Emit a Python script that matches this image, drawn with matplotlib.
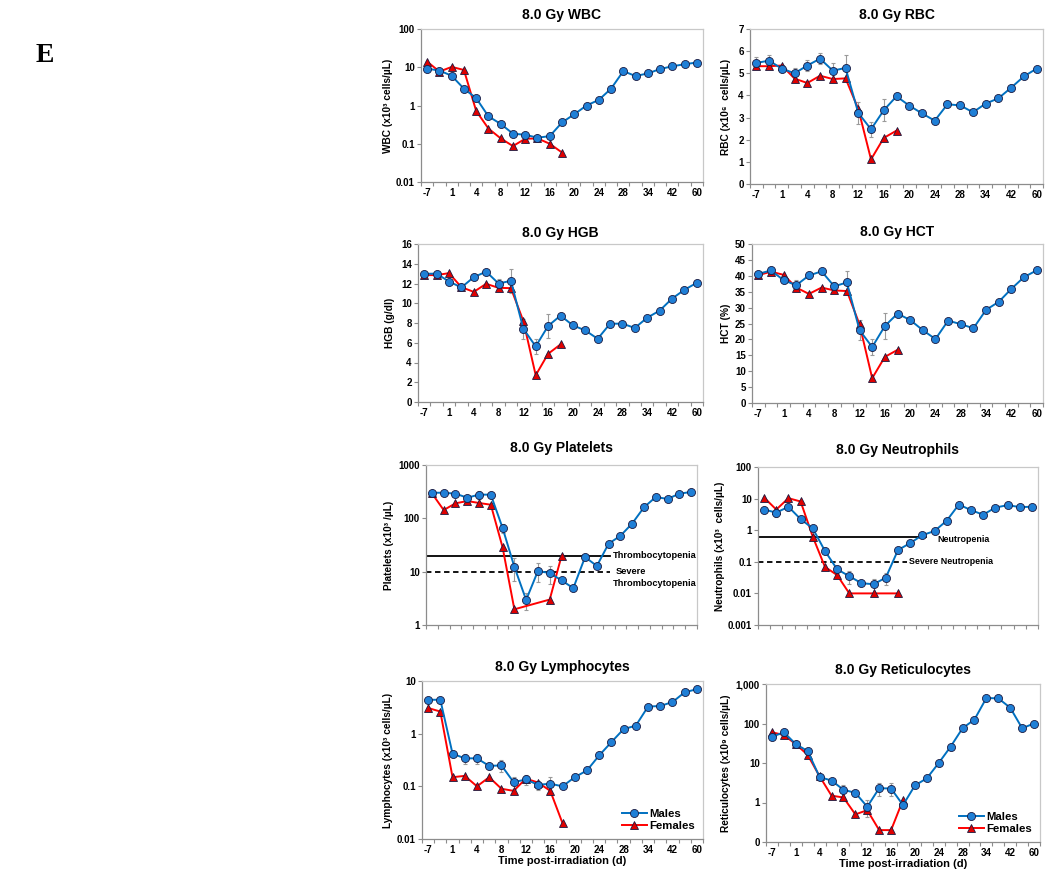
import numpy as np
import matplotlib
matplotlib.use("Agg")
import matplotlib.pyplot as plt
from matplotlib.ticker import NullLocator
from matplotlib.lines import Line2D

plt.rcParams['font.family'] = ['Liberation Sans', 'DejaVu Sans']
plt.rcParams['font.weight'] = 'bold'

W, H = 1050, 877
nan = np.nan

# day categories (only every other one is labelled on the axis)
days = [-7, -3, 1, 2, 4, 6, 8, 10, 12, 14, 16, 18, 20, 22, 24, 26, 28, 31, 34, 38, 42, 49, 60]

wbc_m = [9.2, 8.2, 6.0, 2.75, 1.56, 0.52, 0.33, 0.183, 0.172, 0.144, 0.158, 0.36,
         0.59, 1.0, 1.4, 2.75, 7.9, 5.9, 6.9, 9.0, 10.6, 12.0, 13.3]
wbc_f = [14.1, 7.7, 10.2, 8.5, 0.72, 0.25, 0.138, 0.087, 0.135, 0.138, 0.10, 0.059]
wbc_err = [0.8, 0.8, 0.6, 0.3, 0.2, 0.05, 0.03, 0.02, 0.02, 0.01, 0.02, 0,
           0, 0, 0, 0, 0, 0, 0, 0, 0, 0, 0]

rbc_m = [5.47, 5.57, 5.21, 5.0, 5.35, 5.66, 5.12, 5.24, 3.21, 2.47, 3.33, 3.96,
         3.54, 3.19, 2.86, 3.6, 3.55, 3.24, 3.63, 3.87, 4.35, 4.86, 5.21]
rbc_f = [5.32, 5.32, 5.35, 4.76, 4.56, 4.89, 4.74, 4.77, 3.39, 1.11, 2.08, 2.41]
rbc_err = [0.25, 0.25, 0.15, 0.25, 0.25, 0.25, 0.35, 0.6, 0.5, 0.35, 0.5, 0,
           0, 0, 0, 0, 0, 0, 0, 0, 0, 0, 0]

hgb_m = [12.98, 13.0, 12.2, 11.6, 12.64, 13.2, 12.0, 12.27, 7.42, 5.63, 7.7, 8.75,
         7.76, 7.25, 6.4, 7.93, 7.93, 7.5, 8.54, 9.25, 10.47, 11.36, 12.07]
hgb_f = [12.85, 12.85, 13.05, 11.63, 11.15, 11.97, 11.56, 11.53, 8.2, 2.71, 4.88, 5.83]
hgb_err = [0.2, 0.2, 0.3, 0.3, 0.3, 0.2, 0.5, 1.2, 1.0, 0.8, 1.2, 0,
           0, 0, 0, 0, 0, 0, 0, 0, 0, 0, 0]

hct_m = [40.6, 41.7, 38.6, 37.05, 40.1, 41.4, 36.7, 37.9, 22.9, 17.6, 24.2, 28.1,
         26.1, 22.9, 20.1, 25.9, 24.8, 23.5, 29.3, 31.8, 35.9, 39.6, 41.7]
hct_f = [40.2, 41.3, 40.3, 36.3, 34.3, 36.3, 35.4, 35.2, 24.7, 7.8, 14.5, 16.7]
hct_err = [0.5, 1.0, 0.8, 1.5, 1.2, 0.5, 1.5, 3.5, 3.2, 2.5, 4.0, 0,
           0, 0, 0, 0, 0, 0, 0, 0, 0, 0, 0]

plt_m = [302, 302, 290, 244, 278, 278, 66, 12.3, 2.95, 10.3, 9.4, 6.9,
         4.9, 18.8, 12.8, 33.5, 47, 80, 161, 251, 231, 290, 312]
plt_f = [295, 143, 191, 211, 194, 180, 28.6, 1.97, nan, nan, 3.0, 19.6]
plt_err = [20, 20, 20, 20, 45, 30, 14, 5.5, 1.0, 4.0, 3.5, 0,
           0, 0, 0, 0, 0, 0, 0, 0, 0, 0, 0]

neu_m = [4.5, 3.6, 5.5, 2.24, 1.14, 0.22, 0.058, 0.035, 0.021, 0.0195, 0.0316, 0.236,
         0.39, 0.70, 0.94, 2.0, 6.5, 4.3, 3.1, 5.2, 6.2, 5.4, 5.5]
neu_f = [10.8, 4.5, 10.3, 8.1, 0.62, 0.069, 0.038, 0.01, nan, 0.01, nan, 0.01]
neu_err = [1.0, 1.0, 0.5, 0.3, 0.1, 0.02, 0.01, 0.015, 0.003, 0.01, 0.013, 0,
           0, 0, 0, 0, 0, 0, 0, 0, 0, 0, 0]

lym_m = [4.4, 4.4, 0.417, 0.34, 0.34, 0.244, 0.25, 0.12, 0.135, 0.107, 0.112, 0.1,
         0.149, 0.2, 0.386, 0.69, 1.22, 1.42, 3.26, 3.36, 3.98, 6.1, 7.0]
lym_f = [3.07, 2.63, 0.149, 0.158, 0.1, 0.149, 0.09, 0.082, 0.14, 0.118, 0.082, 0.02]
lym_err = [0.4, 0.4, 0.04, 0.07, 0.07, 0.03, 0.06, 0.03, 0.03, 0.02, 0.04, 0,
           0, 0, 0, 0, 0, 0, 0, 0, 0, 0, 0]

ret_m = [46, 60, 30, 20, 4.4, 3.6, 2.1, 1.76, 0.78, 2.3, 2.26, 0.86,
         2.7, 4.1, 10, 26, 76, 126, 442, 433, 251, 76, 100]
ret_f = [60, 51, 30, 16, 4.6, 1.49, 1.34, 0.5, 0.64, 0.2, 0.2, 1.16]
ret_err = [6, 6, 3, 2, 0.5, 0.4, 0.7, 0.3, 0.35, 0.8, 0.8, 0,
           0, 0, 0, 0, 0, 0, 0, 0, 0, 0, 0]

thrombo_lines = [20, 10]
neutro_lines = [0.6, 0.1]

BLUE = '#0070c0'
BLUE_FILL = '#1f7fd6'
RED = '#ff0000'
EDGE = '#1a1a40'

TICK_FS = 7
MS_CIRCLE = 5.8
MS_TRI = 5.6


def make_axes(fig, x0, y0, x1, y1):
    ax = fig.add_axes([x0 / W, 1 - y1 / H, (x1 - x0) / W, (y1 - y0) / H])
    for side in ['top', 'right']:
        ax.spines[side].set_color('#c8c8c8')
    for side in ['left', 'bottom']:
        ax.spines[side].set_color('#8c8c8c')
    for sp in ax.spines.values():
        sp.set_linewidth(0.9)
    ax.set_xlim(-0.5, len(days) - 0.5)
    ax.set_xticks(np.arange(len(days) + 1) - 0.5)
    ax.set_xticklabels([])
    ax.tick_params(axis='x', which='major', length=3, color='#8c8c8c', direction='out')
    ax.tick_params(axis='y', which='major', length=3, color='#8c8c8c', direction='out',
                   labelsize=TICK_FS, pad=1.5)
    return ax


def day_labels(ax):
    idx = np.arange(len(days))
    ax.set_xticks(idx[::2], minor=True)
    ax.set_xticklabels([str(d) for d in days[::2]], minor=True, fontsize=TICK_FS, fontweight='bold')
    ax.tick_params(axis='x', which='minor', length=0, pad=4)


def draw_series(ax, male, female, err):
    x = np.arange(len(days))
    ax.errorbar(x, male, yerr=err, fmt='none', ecolor='#9a9a9a', elinewidth=0.8,
                capsize=1.5, capthick=0.8, zorder=2)
    f = np.array(female, dtype=float)
    fx = np.arange(len(f))
    ok = ~np.isnan(f)
    ax.plot(fx[ok], f[ok], color=RED, lw=1.4, marker='^', ms=MS_TRI,
            mfc='#e00000', mec=EDGE, mew=0.6, zorder=3)
    ax.plot(x, male, color=BLUE, lw=1.4, marker='o', ms=MS_CIRCLE,
            mfc=BLUE_FILL, mec=EDGE, mew=0.6, zorder=4)


def log_axis(ax, lo, hi, labels):
    ax.set_yscale('log')
    ax.set_ylim(lo, hi)
    ticks = [lo * 10 ** i for i in range(len(labels))]
    ax.set_yticks(ticks)
    ax.set_yticklabels(labels)
    ax.yaxis.set_minor_locator(NullLocator())


fig = plt.figure(figsize=(W / 100, H / 100), dpi=100)
fig.text(45 / W, 1 - 55 / H, 'E', fontsize=20, fontweight='bold',
         family='Liberation Serif', ha='center', va='center')

title_kw = dict(fontsize=10, fontweight='bold')
ylab_kw = dict(fontsize=7.3, fontweight='bold')
xlab_kw = dict(fontsize=8, fontweight='bold')
note_fs = 6.7

# WBC
ax = make_axes(fig, 421, 29, 703, 182)
draw_series(ax, wbc_m, wbc_f, wbc_err)
log_axis(ax, 0.01, 100, ['0.01', '0.1', '1', '10', '100'])
ax.set_title('8.0 Gy WBC', pad=7, **title_kw)
ax.set_ylabel('WBC (x10³ cells/µL)', labelpad=2, **ylab_kw)
day_labels(ax)

# RBC
ax = make_axes(fig, 750, 29, 1043, 184)
draw_series(ax, rbc_m, rbc_f, rbc_err)
ax.set_ylim(0, 7)
ax.set_yticks(range(0, 8))
ax.set_title('8.0 Gy RBC', pad=7, **title_kw)
ax.set_ylabel('RBC (x10⁶  cells/µL)', labelpad=5, **ylab_kw)
day_labels(ax)

# HGB
ax = make_axes(fig, 418, 244, 703, 402)
draw_series(ax, hgb_m, hgb_f, hgb_err)
ax.set_ylim(0, 16)
ax.set_yticks(range(0, 17, 2))
ax.set_title('8.0 Gy HGB', pad=5, **title_kw)
ax.set_ylabel('HGB (g/dl)', labelpad=4, **ylab_kw)
day_labels(ax)

# HCT
ax = make_axes(fig, 752, 244, 1043, 403)
draw_series(ax, hct_m, hct_f, hct_err)
ax.set_ylim(0, 50)
ax.set_yticks(range(0, 51, 5))
ax.set_title('8.0 Gy HCT', pad=5.5, **title_kw)
ax.set_ylabel('HCT (%)', labelpad=3, **ylab_kw)
day_labels(ax)

# Platelets
ax = make_axes(fig, 426, 465, 697, 625)
draw_series(ax, plt_m, plt_f, plt_err)
log_axis(ax, 1, 1000, ['1', '10', '100', '1000'])
ax.plot([-0.5, 15.1], [thrombo_lines[0]] * 2, color='black', lw=1.3, zorder=1)
ax.plot([-0.5, 15.1], [thrombo_lines[1]] * 2, color='black', lw=1.3, ls=(0, (3, 2)), zorder=1)
ax.text(15.4, thrombo_lines[0], 'Thrombocytopenia', fontsize=note_fs, va='center', ha='left')
ax.text(15.6, thrombo_lines[1], 'Severe', fontsize=note_fs, va='center', ha='left')
ax.annotate('Thrombocytopenia', (15.4, thrombo_lines[1]), xytext=(0, -8.5),
            textcoords='offset points', fontsize=note_fs, va='center', ha='left')
ax.set_title('8.0 Gy Platelets', pad=9.5, **title_kw)
ax.set_ylabel('Platelets (x10³ /µL)', labelpad=3, **ylab_kw)

# Neutrophils
ax = make_axes(fig, 758, 467, 1038, 625)
draw_series(ax, neu_m, neu_f, neu_err)
log_axis(ax, 0.001, 100, ['0.001', '0.01', '0.1', '1', '10', '100'])
ax.plot([-0.5, 13.3], [neutro_lines[0]] * 2, color='black', lw=1.3, zorder=1)
ax.plot([-0.5, 11.7], [neutro_lines[1]] * 2, color='black', lw=1.3, ls=(0, (3, 2)), zorder=1)
ax.annotate('Neutropenia', (14.2, neutro_lines[0]), xytext=(0, -2),
            textcoords='offset points', fontsize=note_fs - 0.3, va='center', ha='left')
ax.text(11.9, neutro_lines[1], 'Severe Neutropenia', fontsize=note_fs - 0.3, va='center', ha='left')
ax.set_title('8.0 Gy Neutrophils', pad=9.5, **title_kw)
ax.set_ylabel('Neutrophils (x10³  cells/µL)', labelpad=2, **ylab_kw)

legend_handles = [
    Line2D([], [], color=BLUE, lw=1.4, marker='o', ms=MS_CIRCLE, mfc=BLUE_FILL, mec=EDGE, mew=0.6),
    Line2D([], [], color=RED, lw=1.4, marker='^', ms=MS_TRI, mfc='#e00000', mec=EDGE, mew=0.6),
]
leg_kw = dict(loc='lower right', frameon=False, prop={'size': 8.2, 'weight': 'bold'},
              handlelength=2.2, handletextpad=0.2, labelspacing=0.2, borderaxespad=0.3)

# Lymphocytes
ax = make_axes(fig, 422, 681, 703, 839)
draw_series(ax, lym_m, lym_f, lym_err)
log_axis(ax, 0.01, 10, ['0.01', '0.1', '1', '10'])
ax.set_title('8.0 Gy Lymphocytes', pad=7, **title_kw)
ax.set_ylabel('Lymphocytes (x10³ cells/µL)', labelpad=3, **ylab_kw)
day_labels(ax)
ax.set_xlabel('Time post-irradiation (d)', labelpad=1, **xlab_kw)
ax.legend(legend_handles, ['Males', 'Females'], **leg_kw)

# Reticulocytes
ax = make_axes(fig, 766, 684, 1040, 842)
draw_series(ax, ret_m, ret_f, ret_err)
log_axis(ax, 0.1, 1000, ['0', '1', '10', '100', '1,000'])
ax.set_title('8.0 Gy Reticulocytes', pad=7, **title_kw)
ax.set_ylabel('Reticulocytes (x10⁹ cells/µL)', labelpad=3, **ylab_kw)
day_labels(ax)
ax.set_xlabel('Time post-irradiation (d)', labelpad=1, **xlab_kw)
ax.legend(legend_handles, ['Males', 'Females'], **leg_kw)

fig.savefig('out.png', dpi=100)
